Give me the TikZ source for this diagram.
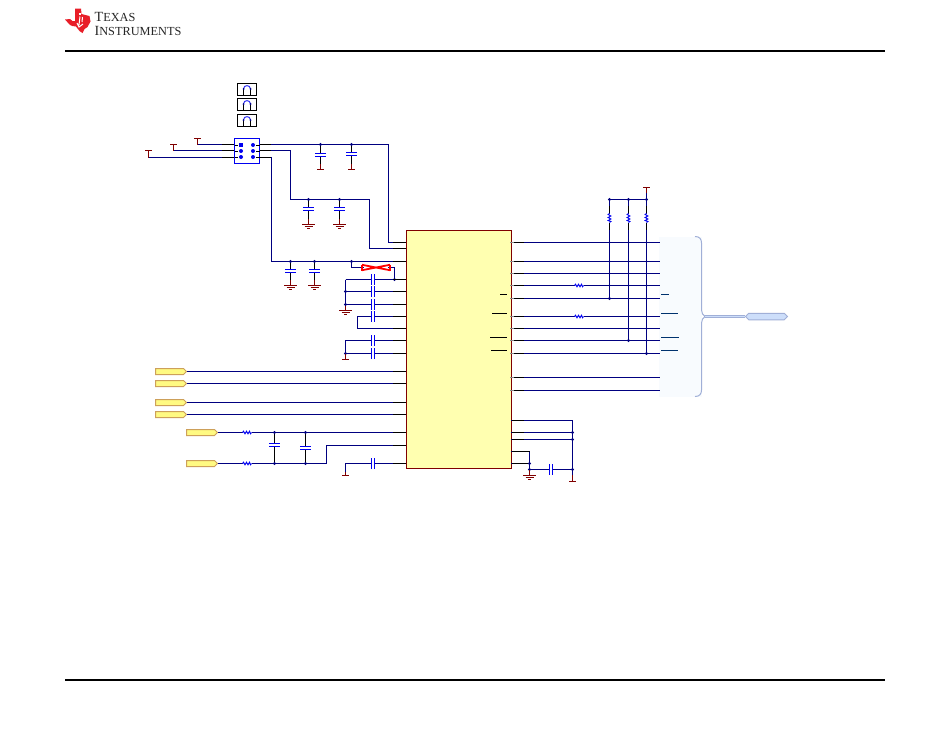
\documentclass[tikz,border=0pt]{standalone}
\usepackage{fontspec}
\setmainfont{Liberation Serif}
\usetikzlibrary{shapes.symbols,calc}
\definecolor{wireblue}{RGB}{0,0,128}
\definecolor{partblue}{RGB}{0,0,240}
\definecolor{pwrred}{RGB}{128,0,0}
\definecolor{icfill}{RGB}{255,255,176}
\definecolor{tagfill}{RGB}{255,250,130}
\definecolor{tagline}{RGB}{205,160,90}
\definecolor{tired}{RGB}{232,30,40}
\definecolor{busfill}{RGB}{248,251,254}
\definecolor{busline}{RGB}{160,175,215}
\definecolor{bustag}{RGB}{205,222,250}
\definecolor{tealine}{RGB}{0,50,110}
\tikzset{
  wire/.style={draw=wireblue,line width=1.3pt,line join=miter},
  stub/.style={draw=black,line width=1.3pt},
  plate/.style={draw=partblue,line width=1.2pt},
  pwr/.style={draw=pwrred,line width=1.2pt},
  part/.style={draw=black,line width=1.2pt},
  rule/.style={draw=black,line width=1.8pt},
  dotj/.style={circle,fill=wireblue,inner sep=0pt,minimum size=3.2pt},
  sigtag/.style={signal,signal to=east,signal pointer angle=90,draw=tagline,fill=tagfill,line width=1pt,minimum width=31pt,minimum height=6pt,inner sep=0pt},
  capv/.pic={\fill[white](-6,-1.5)rectangle(6,1.5);\draw[plate](-5.5,-1.5)--(5.5,-1.5)(-5.5,1.5)--(5.5,1.5);},
  caph/.pic={\fill[white](-1.5,-6)rectangle(1.5,6);\draw[plate](-1.5,-5.5)--(-1.5,5.5)(1.5,-5.5)--(1.5,5.5);},
  resh/.pic={\fill[white](-4.5,-1.5)rectangle(4.5,1.5);\draw[partblue,line width=.9pt](-4.5,0)--(-3.5,-1.3)--(-2,1.3)--(-.5,-1.3)--(1,1.3)--(2.5,-1.3)--(3.5,1.3)--(4.5,0);},
  resv/.pic={\fill[white](-1.5,-4.5)rectangle(1.5,4.5);\draw[partblue,line width=.9pt](0,-4.5)--(-1.4,-3.5)--(1.4,-2)--(-1.4,-.5)--(1.4,1)--(-1.4,2.5)--(1.4,3.5)--(0,4.5);},
  gndsym/.pic={\draw[pwr](-6.5,0)--(6.5,0)(-4,2)--(4,2)(-1.5,4)--(1.5,4);},
  barsym/.pic={\draw[pwr](-3.2,0)--(3.2,0);},
  jumper/.pic={\draw[black,line width=1.2pt](-9.5,-6)rectangle(9.5,6);\draw[part](-3.5,6)--(-3.5,-.5)(3.5,6)--(3.5,-.5);\draw[partblue!80,line width=1pt](-3.5,-.5)..controls(-3.5,-5)and(3.5,-5)..(3.5,-.5);\fill[wireblue](-3.5,-.5)circle(1)(3.5,-.5)circle(1);},
}
\begin{document}
\begin{tikzpicture}[x=1pt,y=-1pt]
\useasboundingbox (0,0) rectangle (950,734);
\fill[white](0,0)rectangle(950,734);
% header, footer
\coordinate (rt1) at (65,51); \coordinate (rt2) at (885,51);
\coordinate (rb1) at (65,680); \coordinate (rb2) at (885,680);
\draw[rule](rt1)--(rt2); \draw[rule](rb1)--(rb2);
\fill[tired](65,19.5)--(70,19)--(72.5,21)--(75,21)--(75,8.5)--(81,8.5)--(81.5,14)--(89.5,16)--(90.5,21.5)--(87.5,27)--(84.5,29)--(82.5,33)--(79.5,31)--(76,26.5)--(72.5,26)--(70,25)--cycle;
\fill[white](79,13)rectangle(81,15);
\draw[white,line width=1pt](80,16.5)--(79,25)(82.5,17)--(82,22)(77,23)--(79,27)--(83,24);
\node[anchor=west,inner sep=0pt,font=\fontsize{14}{14}\selectfont,text=black!85] (tx) at (94.5,16.5) {T\fontsize{12.3}{12}\selectfont EXAS};
\node[anchor=west,inner sep=0pt,font=\fontsize{14}{14}\selectfont,text=black!85] (ti) at (94.5,31) {I\fontsize{12.3}{12}\selectfont NSTRUMENTS};
% jumpers
\pic at (247,89.5) {jumper};
\pic at (247,104.5) {jumper};
\pic at (247,120.5) {jumper};
% main wires
\coordinate (p1) at (197.5,138.5); \coordinate (p2) at (173.5,144.5); \coordinate (p3) at (148.5,150.5);
\draw[wire](p1)++(0,6)--(388.5,144.5)--(388.5,242.5)--(406,242.5);
\draw[wire](p2)++(0,6)--(290.5,150.5)--(290.5,199.5)--(369.5,199.5)--(369.5,248.5)--(406,248.5);
\draw[wire](p3)++(0,7)--(271.5,157.5)--(271.5,261.5)--(406,261.5);
\foreach \p/\l in {p1/6,p2/6,p3/7}{\draw[pwr](\p)--++(0,\l); \pic at (\p) {barsym};}
\foreach \y in {144.5,150.5,157.5}{\draw[stub](222,\y)--(234,\y)(259.5,\y)--(271,\y);}
% connector block
\node[draw=partblue,fill=white,line width=1.2pt,minimum size=25pt,inner sep=0pt] (j1) at (247,151) {};
\foreach \y in {145,151,157}{\fill[partblue](241,\y)circle(2)(253,\y)circle(2); \draw[stub](234.5,\y+.5)--(238,\y+.5)(256,\y+.5)--(259.5,\y+.5);}
\fill[partblue](239.3,143.3)rectangle(242.7,146.7);
% decoupling caps top
\foreach \x/\cy in {320.5/155,351.5/154}{
 \draw[part](\x,144.5)--(\x,169.5);\pic at (\x,\cy){capv};\pic at (\x,169.5){barsym};\draw[pwr](\x,164)--(\x,169.5);\node[dotj] at (\x,144.5){};}
\foreach \x in {308.5,339.5}{
 \draw[part](\x,199.5)--(\x,224.5);\pic at (\x,209){capv};\pic at (\x,224.5){gndsym};\draw[pwr](\x,219)--(\x,224.5);\node[dotj] at (\x,199.5){};}
\foreach \x in {290.5,314.5}{
 \draw[part](\x,261.5)--(\x,285.5);\pic at (\x,271){capv};\pic at (\x,285.5){gndsym};\draw[pwr](\x,280)--(\x,285.5);\node[dotj] at (\x,261.5){};}
% IC
\node[draw=pwrred,fill=icfill,line width=1.2pt,minimum width=105pt,minimum height=238pt,inner sep=0pt] (u1) at (459,349.5) {};
% red link
\draw[wire](351.5,261.5)--(351.5,267.5)--(394.5,267.5)--(394.5,279.5);
\node[dotj] at (351.5,261.5){}; \node[dotj] at (394.5,279.5){};
\fill[white](364,265)rectangle(388,270);
\draw[red,line width=1.8pt](362,264.8)--(390,270.2)(362,270.2)--(390,264.8);
\draw[red,line width=1.6pt](362,264.5)--(362,270.5)(390,264.5)--(390,270.5);
% left caps
\draw[wire](345.5,291.5)--(406,291.5)(345.5,304.5)--(406,304.5)(345.5,279.5)--(406,279.5)(345.5,279.5)--(345.5,304.5);
\draw[pwr](345.5,304.5)--(345.5,310.5); \pic at (345.5,310.5){gndsym};
\foreach \y in {291.5,304.5}{\node[dotj] at (345.5,\y){};}
\draw[wire](406,316.5)--(357.5,316.5)--(357.5,328.5)--(406,328.5);
\draw[wire](406,340.5)--(345.5,340.5)--(345.5,353.5)--(406,353.5);
\node[dotj] at (345.5,353.5){};
\draw[pwr](345.5,353.5)--(345.5,359.5); \pic at (345.5,359.5){barsym};
\foreach \y in {279.5,291.5,304.5,316.5,340.5,353.5}{\pic at (373,\y){caph};}
% signals
\foreach \n/\y in {a/371.5,b/383.5,c/402.5,d/414.5}{
 \node[sigtag] (t\n) at (169.5,\y){}; \draw[wire](t\n.east)--(406,\y);}
\foreach \n/\y in {e/432.5,f/463.5}{
 \node[sigtag] (t\n) at (200.5,\y){}; }
\draw[wire](te.east)--(406,432.5);
\draw[wire](tf.east)--(326.5,463.5)--(326.5,445.5)--(406,445.5);
\pic at (247,432.5){resh}; \pic at (247,463.5){resh};
\foreach \x in {274.5,305.5}{\draw[part](\x,432.5)--(\x,463.5);\node[dotj] at (\x,432.5){};\node[dotj] at (\x,463.5){};}
\pic at (274.5,445){capv}; \pic at (305.5,448){capv};
\draw[wire](406,463.5)--(345.5,463.5)--(345.5,475.5);
\pic at (373,463.5){caph}; \draw[pwr](345.5,472)--(345.5,475.5); \pic at (345.5,475.5){barsym};
% black ends of the wires at the left pins
\foreach \y in {242.5,248.5,261.5,279.5,291.5,304.5,316.5,328.5,340.5,353.5,371.5,383.5,402.5,414.5,432.5,445.5,463.5}{\draw[stub](393,\y)--(406,\y);}
% right rows
\foreach \y in {242.5,261.5,273.5,285.5,298.5,316.5,328.5,340.5,353.5,377.5,390.5}{
 \draw[wire](511,\y)--(659,\y);
 \draw[stub](512,\y)--(524,\y);
 \fill[black!45](509.5,\y-.8)rectangle(514,\y+.8);
}
\pic at (579,285.5){resh}; \pic at (579,316.5){resh};
% pull-ups
\coordinate (vt) at (646.5,187.5);
\draw[pwr](vt)--(646.5,193); \pic at (vt){barsym};
\draw[wire](646.5,193)--(646.5,199.5);
\draw[wire](609.5,298.5)--(609.5,199.5)--(646.5,199.5)--(646.5,353.5);
\draw[wire](628.5,199.5)--(628.5,340.5);
\foreach \x in {609.5,628.5,646.5}{\draw[part](\x,206)--(\x,230);\pic at (\x,218){resv}; \node[dotj] at (\x,199.5){};
 \foreach \y in {242.5,261.5,273.5,285.5}{\node[dotj,minimum size=2.4pt] at (\x,\y){};}}
\node[dotj] at (609.5,298.5){}; \node[dotj] at (628.5,340.5){}; \node[dotj] at (646.5,353.5){};
\foreach \x in {628.5,646.5}{\foreach \y in {298.5,316.5,328.5}{\node[dotj,minimum size=2.4pt] at (\x,\y){};}}
\node[dotj,minimum size=2.4pt] at (646.5,340.5){};
% inner black ticks
\foreach \y/\a in {294.5/500,313.5/492,337.5/490,350.5/491}{\draw[stub](\a,\y)--(507,\y);}
% bus block
\fill[busfill](658.5,236.5)rectangle(701.5,396.5);
\draw[busline,line width=1pt](695,236.5)..controls (699.5,236.5) and (701.5,239) .. (701.5,243)--(701.5,310)..controls (701.5,313) and (703,315) .. (705,316.5)..controls (703,318) and (701.5,320) .. (701.5,323)--(701.5,390)..controls (701.5,394) and (699.5,396.5) .. (695,396.5);
\foreach \y in {242.5,261.5,273.5,285.5,298.5,316.5,328.5,340.5,353.5,377.5,390.5}{\draw[wire](655,\y)--(659.5,\y);}
\foreach \y/\b in {294.5/668.5,313.5/678,337.5/679,350.5/678}{\draw[draw=tealine,line width=1pt](661,\y)--(\b,\y);}
\node[signal,signal to=east and west,signal pointer angle=90,draw=busline,fill=bustag,line width=1pt,minimum width=42pt,minimum height=6.5pt,inner sep=0pt] (bus) at (766.5,316.5){};
\coordinate (bj) at (705,316.5);
\draw[busline,line width=2.6pt](bj)--(bus.west);
\draw[bustag,line width=1pt](bj)--(bus.west);
% bottom right
\draw[wire](511,420.5)--(572.5,420.5)--(572.5,475);
\draw[wire](511,432.5)--(572.5,432.5)(511,439.5)--(572.5,439.5);
\draw[wire](511,451.5)--(529.5,451.5)--(529.5,469.5)--(572.5,469.5)(511,463.5)--(529.5,463.5);
\foreach \y in {420.5,432.5,439.5,451.5,463.5}{\draw[stub](512,\y)--(524,\y);}
\draw[stub](523,451.5)--(529.5,451.5)(523,463.5)--(529.5,463.5);
\foreach \p in {(572.5,432.5),(572.5,439.5),(572.5,469.5),(529.5,463.5),(529.5,469.5)}{\node[dotj] at \p{};}
\pic at (551,469.5){caph};
\draw[pwr](529.5,469.5)--(529.5,475.5);
\pic at (529.5,475.5){gndsym};
\draw[pwr](572.5,475)--(572.5,481.5); \pic at (572.5,481.5){barsym};
\end{tikzpicture}
\end{document}
